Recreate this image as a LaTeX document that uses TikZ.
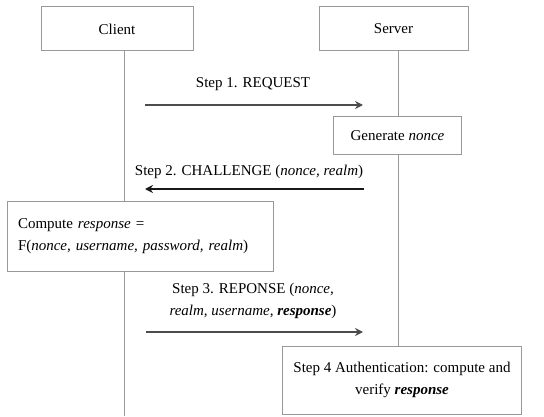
\documentclass[tikz,border=0pt]{standalone}
\usepackage{fontspec}
\setmainfont{Liberation Serif}
\usetikzlibrary{arrows.meta}
\usetikzlibrary{positioning}

\begin{document}
\begin{tikzpicture}
[x=1pt,y=-1pt,%
  box/.style={draw=black!40,fill=white,line width=1pt,inner sep=0pt},%
  life/.style={draw=black!40,line width=1pt},%
  msg/.style={line width=2.8pt,-{Stealth[length=8pt,width=8pt]}},%
  lbl/.style={inner sep=0pt,align=center}]
\fontsize{15}{22}\selectfont
\useasboundingbox (0,0) rectangle (544,417);
% actors
\node[box,minimum width=152pt,minimum height=44pt] (client) at (117,29) {Client};
\node[box,minimum width=149pt,minimum height=44pt] (server) at (393.5,29) {Server};
\coordinate (ctop) at (124,51);
\coordinate (cend) at (124,416);
\coordinate (stop) at (398,51);
% lifelines
\draw[life] (ctop) -- (cend);
\node[box,minimum width=128pt,minimum height=38pt] (nonce) at (397.5,136) {Generate \textit{nonce}};
\node[box,align=center,minimum width=239pt,minimum height=68pt] (auth) at (402,380)
  {Step 4 Authentication: compute and\\ verify \textbf{\textit{response}}};
\draw[life] (stop) -- (nonce.north -| stop);
\draw[life] (nonce.south -| stop) -- (auth.north -| stop);
% step 1
\coordinate (m1s) at (145,105);
\coordinate (m1e) at (363,105);
\draw[msg,black!70] (m1s) -- (m1e);
\node[lbl] (l1) at (253,84) {Step 1. REQUEST};
% step 2
\coordinate (m2s) at (364,189);
\coordinate (m2e) at (145,189);
\draw[msg,black!90] (m2s) -- (m2e);
\node[lbl] (l2) at (249,172) {Step 2. CHALLENGE (\textit{nonce, realm})};
\node[box,minimum width=266pt,minimum height=69pt,text width=244pt,inner xsep=11pt,align=left]
  (comp) at (140,236.5)
  {Compute \textit{response} =\\ F(\textit{nonce, username, password, realm})};
% step 3
\coordinate (m3s) at (146,332);
\coordinate (m3e) at (363,332);
\draw[msg,black!70] (m3s) -- (m3e);
\node[lbl] (l3) at (253,301) {Step 3. REPONSE (\textit{nonce,}\\ \textit{realm, username,} \textbf{\textit{response}})};
\end{tikzpicture}
\end{document}
